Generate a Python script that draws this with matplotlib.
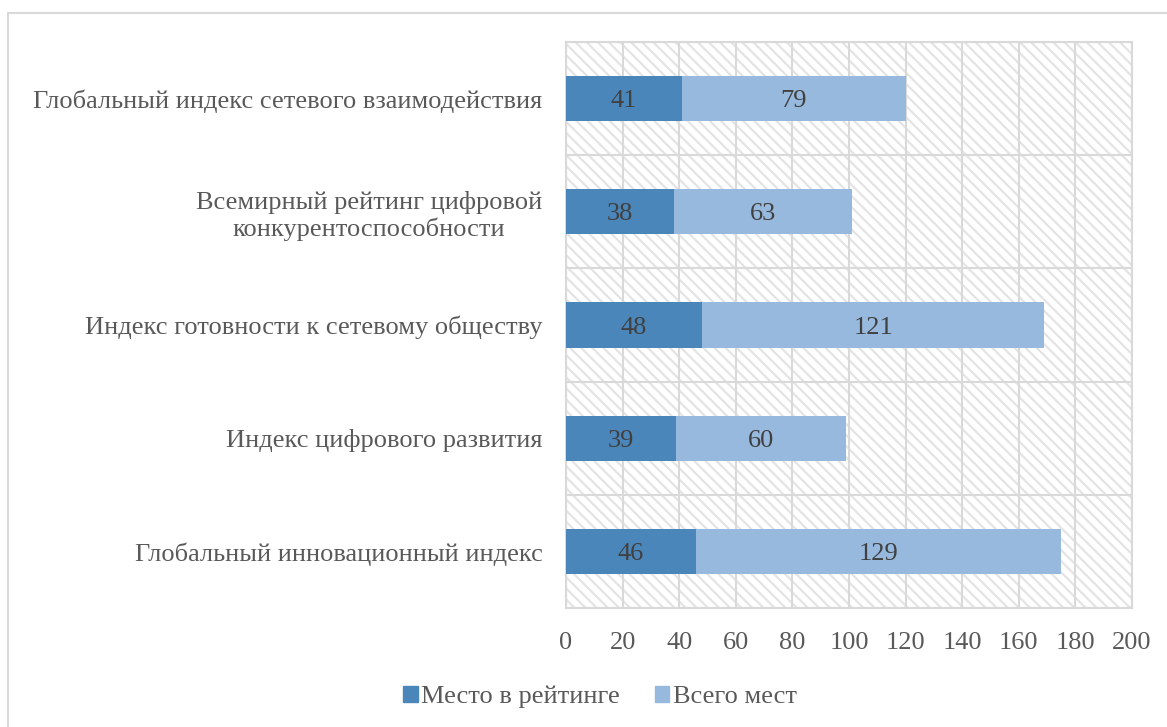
import matplotlib.pyplot as plt
from matplotlib.patches import Rectangle, Patch

# data, top to bottom as shown in the chart
categories = ['Глобальный индекс сетевого взаимодействия',
              'Всемирный рейтинг цифровой\nконкурентоспособности',
              'Индекс готовности к сетевому обществу',
              'Индекс цифрового развития',
              'Глобальный инновационный индекс']
place = [41, 38, 48, 39, 46]
total = [79, 63, 121, 60, 129]
series_names = ['Место в рейтинге', 'Всего мест']
x_ticks = [0, 20, 40, 60, 80, 100, 120, 140, 160, 180, 200]

plt.rcParams['font.family'] = ['Liberation Serif', 'DejaVu Serif']
plt.rcParams['hatch.linewidth'] = 1.6

dark = '#4a86ba'
light = '#97b9de'
grid_c = '#d9d9d9'
hatch_c = '#e4e4e4'
text_c = '#404040'
tick_c = '#595959'
fs = 19

fig = plt.figure(figsize=(11.67, 7.27), dpi=100)
W, H = 1167, 727
ax = fig.add_axes([566 / W, 1 - 608 / H, (1132 - 566) / W, (608 - 42) / H])

# outer chart border (only top and left edges visible)
fig.patches.append(Rectangle((8 / W, -0.1), 1.2, 1.1 - 13 / H, transform=fig.transFigure,
                             fill=False, edgecolor='#d9d9d9', linewidth=1.5))

# hatched plot area
ax.set_facecolor('white')
ax.add_patch(Rectangle((0, 0), 1, 1, transform=ax.transAxes, facecolor='white',
                       edgecolor=hatch_c, linewidth=0, hatch='\\\\\\', zorder=0))

n = len(categories)
y = list(range(n - 1, -1, -1))
h = 0.4
ax.barh(y, place, height=h, color=dark, zorder=3)
ax.barh(y, total, left=place, height=h, color=light, zorder=3)

for yi, p, t in zip(y, place, total):
    ax.text(p / 2, yi, str(p), ha='center', va='center_baseline', fontsize=fs, color=text_c, zorder=4)
    ax.text(p + t / 2, yi, str(t), ha='center', va='center_baseline', fontsize=fs, color=text_c, zorder=4)

ax.set_xlim(0, 200)
ax.set_ylim(-0.5, n - 0.5)
ax.set_xticks(x_ticks)
ax.set_yticks(y)
ax.set_yticklabels(categories)
ax.set_yticks([i - 0.5 for i in range(n + 1)], minor=True)
ax.tick_params(axis='both', length=0, which='both', labelsize=fs, labelcolor=tick_c)
ax.tick_params(axis='y', pad=17)
ax.tick_params(axis='x', pad=17)
for lbl in ax.get_yticklabels():
    lbl.set_multialignment('center')

ax.grid(axis='x', which='major', color=grid_c, linewidth=1.5, zorder=1)
ax.grid(axis='y', which='minor', color=grid_c, linewidth=1.5, zorder=1)
ax.set_axisbelow(True)
for s in ax.spines.values():
    s.set_color(grid_c)
    s.set_linewidth(1.5)

handles = [Patch(color=dark), Patch(color=light)]
fig.legend(handles, series_names, loc='center', bbox_to_anchor=(600 / W, 1 - 697 / H),
           ncol=2, frameon=False, fontsize=fs, labelcolor=tick_c,
           handlelength=0.55, handleheight=0.55, handletextpad=0.15, columnspacing=1.3)

fig.savefig('out.png', dpi=100)
